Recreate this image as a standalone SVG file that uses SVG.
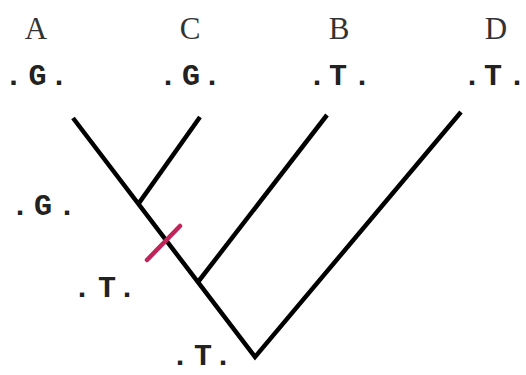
<svg xmlns="http://www.w3.org/2000/svg" width="526" height="375" viewBox="0 0 526 375">
<style>
.lbl{font-family:"Liberation Serif","Times New Roman",serif;font-size:31px;fill:#333;text-anchor:middle}
.seq{font-family:"Liberation Mono","Courier New",monospace;font-size:30px;font-weight:bold;fill:#222;text-anchor:middle}
.br{stroke:#000;stroke-width:4.5;fill:none;stroke-linejoin:miter}
.mut{stroke:#c0245a;stroke-width:4.5;stroke-linecap:round}
</style>
<rect width="526" height="375" fill="#fff"/>
<g id="A"><text class="lbl" x="36" y="39">A</text><text class="seq" x="13.5 37.5 59" y="85">.G.</text></g>
<g id="C"><text class="lbl" x="190" y="39">C</text><text class="seq" x="168 191 212" y="85">.G.</text></g>
<g id="B"><text class="lbl" x="339" y="39">B</text><text class="seq" x="317 338 362" y="85">.T.</text></g>
<g id="D"><text class="lbl" x="496" y="39">D</text><text class="seq" x="472 493 517" y="85">.T.</text></g>
<g id="nodeAC"><text class="seq" x="20 43 67" y="215">.G.</text></g>
<g id="nodeACB"><text class="seq" x="82 107 127" y="297">.T.</text></g>
<g id="root"><text class="seq" x="180 203 223" y="365">.T.</text></g>
<g id="connectors">
<polyline class="br" points="73,118 255,357 461,112"/>
<line class="br" x1="200" y1="117" x2="138.4" y2="203.9"/>
<line class="br" x1="327" y1="115" x2="198" y2="282"/>
<line class="mut" x1="147" y1="260" x2="180" y2="226"/>
</g>
</svg>
